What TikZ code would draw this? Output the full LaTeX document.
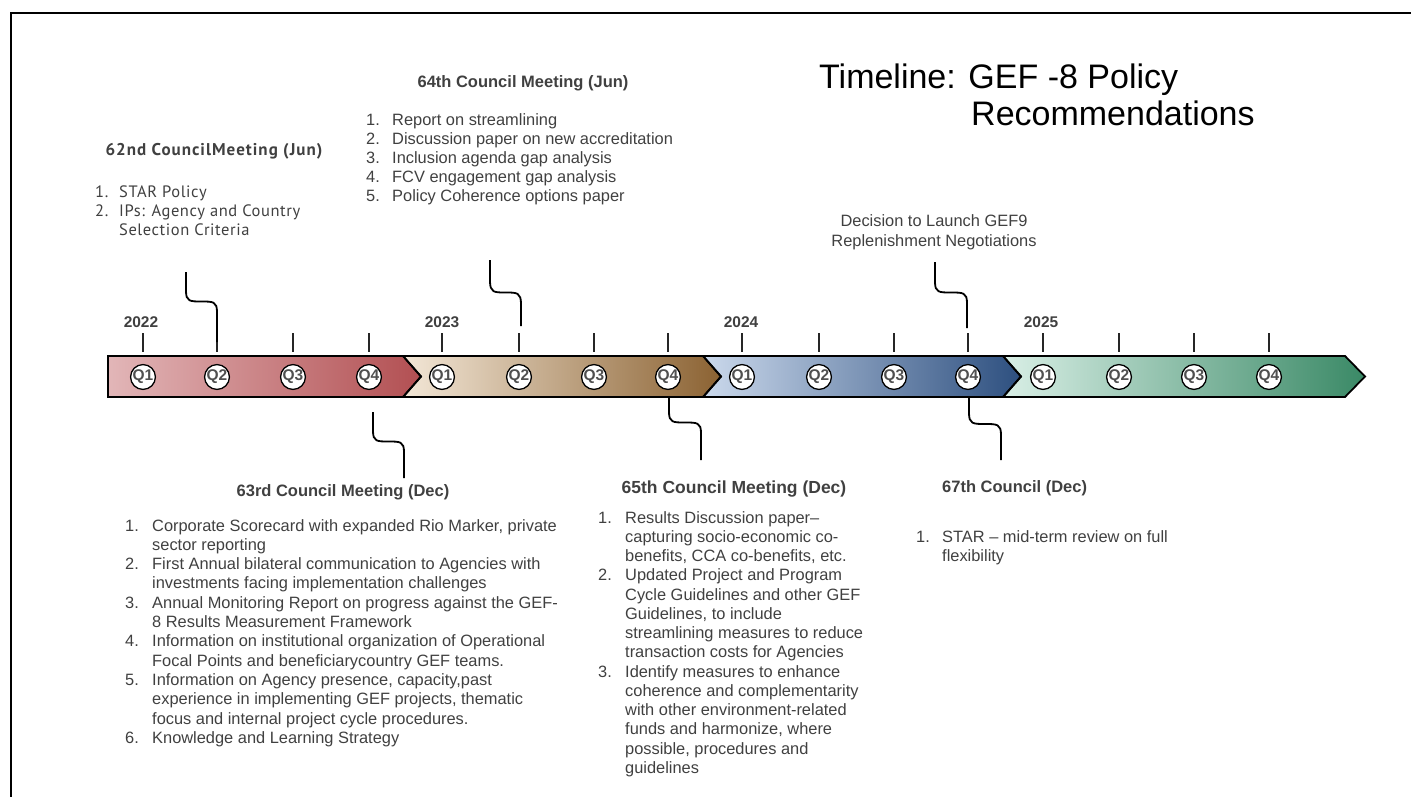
\documentclass[tikz,border=0pt]{standalone}
\usepackage{fontspec}
\setmainfont{Liberation Sans}
\newfontfamily\ptsans{PT Sans}
\newfontfamily\ptsanswide[LetterSpace=6.0]{PT Sans}
\newfontfamily\ptsansmid[LetterSpace=3.5]{PT Sans}
\definecolor{txt}{HTML}{404040}
\definecolor{qgray}{HTML}{505050}
\definecolor{ra}{HTML}{E2B6B8}\definecolor{rb}{HTML}{B24F52}
\definecolor{ba}{HTML}{F3E7D7}\definecolor{bb}{HTML}{8B6232}
\definecolor{ua}{HTML}{CBD9EC}\definecolor{ub}{HTML}{2D4F7F}
\definecolor{ga}{HTML}{D9EFE6}\definecolor{gb}{HTML}{3A8966}
\tikzset{
  bandline/.style={draw=black,line width=1.8pt,line join=miter},
  qc/.style={circle,draw=black,fill=white,line width=1.3pt,inner sep=0pt,minimum size=24.5pt,
    text=qgray,font=\bfseries\fontsize{15.5}{15.5}\selectfont},
  tickline/.style={line width=1.8pt,draw=black!85},
  conn/.style={line width=1.8pt,draw=black},
  yearlbl/.style={anchor=base,text=txt,font=\bfseries\fontsize{15.5}{18}\selectfont},
  hdr/.style={text=txt,inner sep=0pt,font=\bfseries\fontsize{16.5}{19}\selectfont},
  lst/.style={text=txt,inner sep=0pt,align=left,anchor=base west},
}
\newcommand{\itm}[2]{\makebox[#1pt][l]{#2}}
\begin{document}
\begin{tikzpicture}[x=1pt,y=-1pt]
\useasboundingbox (0,0) rectangle (1411,797);
% frame
\draw[line width=2pt] (11,797) -- (11,13) -- (1411,13);
% title
\node[anchor=base west,inner sep=0pt,font=\fontsize{34}{40}\selectfont] (t1) at (819,89) {Timeline: GEF -8 Policy};
\node[anchor=base west,inner sep=0pt,font=\fontsize{34}{40}\selectfont] (t2) at (971,126) {Recommendations};
% band segments
\shade[left color=ra,right color=rb] (108,356) -- (403,356) -- (421,376.5) -- (403,397) -- (108,397) -- cycle;
\shade[left color=ba,right color=bb] (403,356) -- (703,356) -- (721,376.5) -- (703,397) -- (403,397) -- (421,376.5) -- cycle;
\shade[left color=ua,right color=ub] (703,356) -- (1003,356) -- (1021,376.5) -- (1003,397) -- (703,397) -- (721,376.5) -- cycle;
\shade[left color=ga,right color=gb] (1003,356) -- (1345,356) -- (1365,376.5) -- (1345,397) -- (1003,397) -- (1021,376.5) -- cycle;
\draw[bandline] (108,356) -- (403,356) -- (421,376.5) -- (403,397) -- (108,397) -- cycle;
\draw[bandline] (403,356) -- (703,356) -- (721,376.5) -- (703,397) -- (403,397) -- (421,376.5) -- cycle;
\draw[bandline] (703,356) -- (1003,356) -- (1021,376.5) -- (1003,397) -- (703,397) -- (721,376.5) -- cycle;
\draw[bandline] (1003,356) -- (1345,356) -- (1365,376.5) -- (1345,397) -- (1003,397) -- (1021,376.5) -- cycle;
% ticks
\foreach \x in {143,217,293,369,442,519,594,668,742,819,894,968,1043,1119,1194,1269}
  \draw[tickline] (\x,333) -- (\x,352);
% quarter circles
\foreach \x/\q/\n in {143/Q1/a22,217/Q2/b22,293/Q3/c22,369/Q4/d22,
                      442/Q1/a23,519/Q2/b23,594/Q3/c23,668/Q4/d23,
                      742/Q1/a24,819/Q2/b24,894/Q3/c24,968/Q4/d24,
                      1043/Q1/a25,1119/Q2/b25,1194/Q3/c25,1269/Q4/d25}
  \node[qc] (q\n) at (\x,377) {\q};
% years
\node[yearlbl] (y22) at (141,327) {2022};
\node[yearlbl] (y23) at (442,327) {2023};
\node[yearlbl] (y24) at (741,327) {2024};
\node[yearlbl] (y25) at (1041,327) {2025};
% connectors
\coordinate (k62t) at (186,272); \coordinate (k62b) at (217,342);
\draw[conn] (k62t) -- (186,291) .. controls (186,301.5) and (190,301.5) .. (201.5,301.5) .. controls (213,301.5) and (217,301.5) .. (217,312) -- (k62b);
\coordinate (k64t) at (490,260); \coordinate (k64b) at (521,326);
\draw[conn] (k64t) -- (490,281) .. controls (490,292.5) and (494,292.5) .. (505.5,292.5) .. controls (517,292.5) and (521,292.5) .. (521,304) -- (k64b);
\coordinate (kdt) at (935,262); \coordinate (kdb) at (967,328);
\draw[conn] (kdt) -- (935,282) .. controls (935,292.5) and (939,292.5) .. (951,292.5) .. controls (963,292.5) and (967,292.5) .. (967,303) -- (kdb);
\coordinate (k63t) at (373,412); \coordinate (k63b) at (404,478);
\draw[conn] (k63t) -- (373,431) .. controls (373,441.5) and (377,441.5) .. (388.5,441.5) .. controls (400,441.5) and (404,441.5) .. (404,452) -- (k63b);
\coordinate (k65t) at (669,397); \coordinate (k65b) at (701,460);
\draw[conn] (k65t) -- (669,412) .. controls (669,422.5) and (673,422.5) .. (685,422.5) .. controls (697,422.5) and (701,422.5) .. (701,433) -- (k65b);
\coordinate (k67t) at (969,397); \coordinate (k67b) at (1001,460);
\draw[conn] (k67t) -- (969,413) .. controls (969,424) and (973,424) .. (985,424) .. controls (997,424) and (1001,424) .. (1001,435) -- (k67b);
% 62nd
\node[hdr,anchor=base,font=\ptsanswide\bfseries\fontsize{17}{20}\selectfont] (h62) at (214,156) {62nd CouncilMeeting (Jun)};
\node[lst,font=\ptsansmid\fontsize{16.5}{19}\selectfont] (l62) at (95,235)
 {\itm{24}{1.}STAR Policy\\
  \itm{24}{2.}IPs: Agency and Country\\
  \itm{24}{}Selection Criteria};
% 64th
\node[hdr,anchor=base] (h64) at (523,88) {64th Council Meeting (Jun)};
\node[lst,font=\fontsize{16.4}{19}\selectfont] (l64) at (366,201)
 {\itm{26}{1.}Report on streamlining\\
  \itm{26}{2.}Discussion paper on new accreditation\\
  \itm{26}{3.}Inclusion agenda gap analysis\\
  \itm{26}{4.}FCV engagement gap analysis\\
  \itm{26}{5.}Policy Coherence options paper};
% decision
\node[text=txt,inner sep=0pt,align=center,anchor=base,font=\fontsize{16.4}{20}\selectfont] (dec) at (934,246)
 {Decision to Launch GEF9\\Replenishment Negotiations};
% 63rd
\node[hdr,anchor=base] (h63) at (343,496) {63rd Council Meeting (Dec)};
\node[lst,font=\fontsize{16.4}{19.3}\selectfont] (l63) at (125,743.3)
 {\itm{27}{1.}Corporate Scorecard with expanded Rio Marker, private\\
  \itm{27}{}sector reporting\\
  \itm{27}{2.}First Annual bilateral communication to Agencies with\\
  \itm{27}{}investments facing implementation challenges\\
  \itm{27}{3.}Annual Monitoring Report on progress against the GEF-\\
  \itm{27}{}8 Results Measurement Framework\\
  \itm{27}{4.}Information on institutional organization of Operational\\
  \itm{27}{}Focal Points and beneficiarycountry GEF teams.\\
  \itm{27}{5.}Information on Agency presence, capacity,past\\
  \itm{27}{}experience in implementing GEF projects, thematic\\
  \itm{27}{}focus and internal project cycle procedures.\\
  \itm{27}{6.}Knowledge and Learning Strategy};
% 65th
\node[hdr,anchor=base,font=\bfseries\fontsize{17.5}{20}\selectfont] (h65) at (734,493) {65th Council Meeting (Dec)};
\node[lst,font=\fontsize{16.4}{19.25}\selectfont] (l65) at (598,773.25)
 {\itm{27}{1.}Results Discussion paper--\\
  \itm{27}{}capturing socio-economic co-\\
  \itm{27}{}benefits, CCA co-benefits, etc.\\
  \itm{27}{2.}Updated Project and Program\\
  \itm{27}{}Cycle Guidelines and other GEF\\
  \itm{27}{}Guidelines, to include\\
  \itm{27}{}streamlining measures to reduce\\
  \itm{27}{}transaction costs for Agencies\\
  \itm{27}{3.}Identify measures to enhance\\
  \itm{27}{}coherence and complementarity\\
  \itm{27}{}with other environment-related\\
  \itm{27}{}funds and harmonize, where\\
  \itm{27}{}possible, procedures and\\
  \itm{27}{}guidelines};
% 67th
\node[hdr,anchor=base west] (h67) at (942,492) {67th Council (Dec)};
\node[lst,font=\fontsize{16.4}{19.3}\selectfont] (l67) at (916,561.3)
 {\itm{26}{1.}STAR -- mid-term review on full\\
  \itm{26}{}flexibility};
\end{tikzpicture}
\end{document}
